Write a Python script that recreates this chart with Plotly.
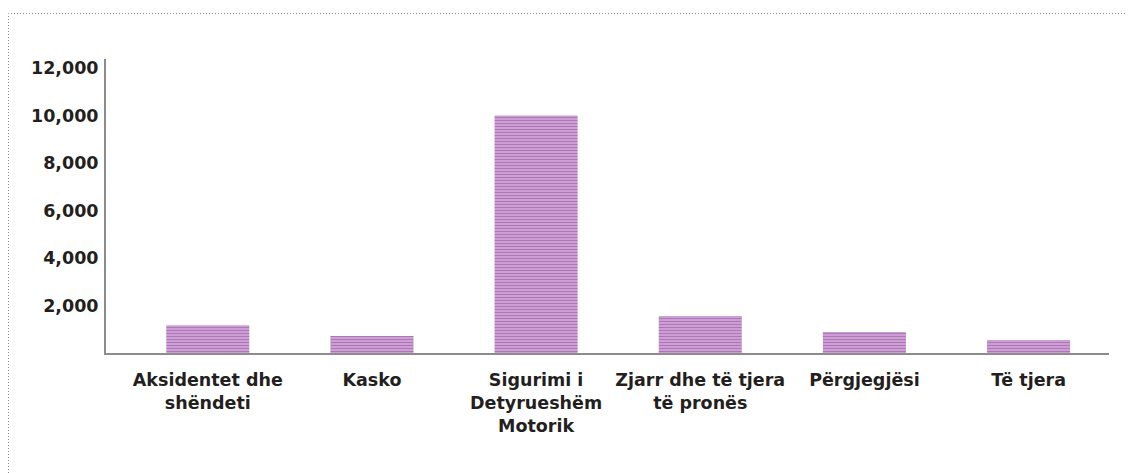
import plotly.graph_objects as go

categories = [
    "Aksidentet dhe<br>shëndeti",
    "Kasko",
    "Sigurimi i<br>Detyrueshëm<br>Motorik",
    "Zjarr dhe të tjera<br>të pronës",
    "Përgjegjësi",
    "Të tjera",
]
values = [1170, 720, 10000, 1560, 880, 550]
tick_vals = [2000, 4000, 6000, 8000, 10000, 12000]
tick_text = ["2,000", "4,000", "6,000", "8,000", "10,000", "12,000"]

font_family = "DejaVu Sans"
text_color = "#231f20"

fig = go.Figure(
    go.Bar(
        x=categories,
        y=values,
        width=0.506,
        marker=dict(
            color="#c896cf",
            line=dict(width=0),
            pattern=dict(shape="-", size=3, solidity=0.5,
                         fgcolor="#ae78b8", bgcolor="#d6aadc", fillmode="replace"),
        ),
    )
)

W, H = 1125, 465
L, R, T, B = 98, 24, 51, 120
pw = W - L - R
ph = H - T - B

fig.update_layout(
    width=W,
    height=H,
    margin=dict(l=L, r=R, t=T, b=B),
    paper_bgcolor="white",
    plot_bgcolor="white",
    showlegend=False,
    font=dict(family=font_family, size=17, color=text_color),
    shapes=[
        dict(type="rect", xref="paper", yref="paper",
             x0=-(L - 0.5) / pw, x1=(W - L + 60) / pw,
             y0=-(B + 40) / ph, y1=1 + (T - 5.5) / ph,
             line=dict(color="#8a8a8a", width=1, dash="1px,2px"),
             layer="below"),
    ],
)

fig.update_xaxes(
    range=[-0.62, 5.49],
    showline=True, linecolor="#8c8c8c", linewidth=2,
    showgrid=False, zeroline=False, ticks="",
    tickfont=dict(family=font_family, size=17.5, color=text_color, weight="bold"),
    ticklabelstandoff=10,
)
fig.update_yaxes(
    range=[0, 12380],
    tickvals=tick_vals, ticktext=tick_text,
    showline=True, linecolor="#8c8c8c", linewidth=2,
    showgrid=False, zeroline=False, ticks="",
    tickfont=dict(family=font_family, size=17.5, color=text_color, weight="bold"),
    ticklabelstandoff=2,
)

fig.write_html("out.html")
